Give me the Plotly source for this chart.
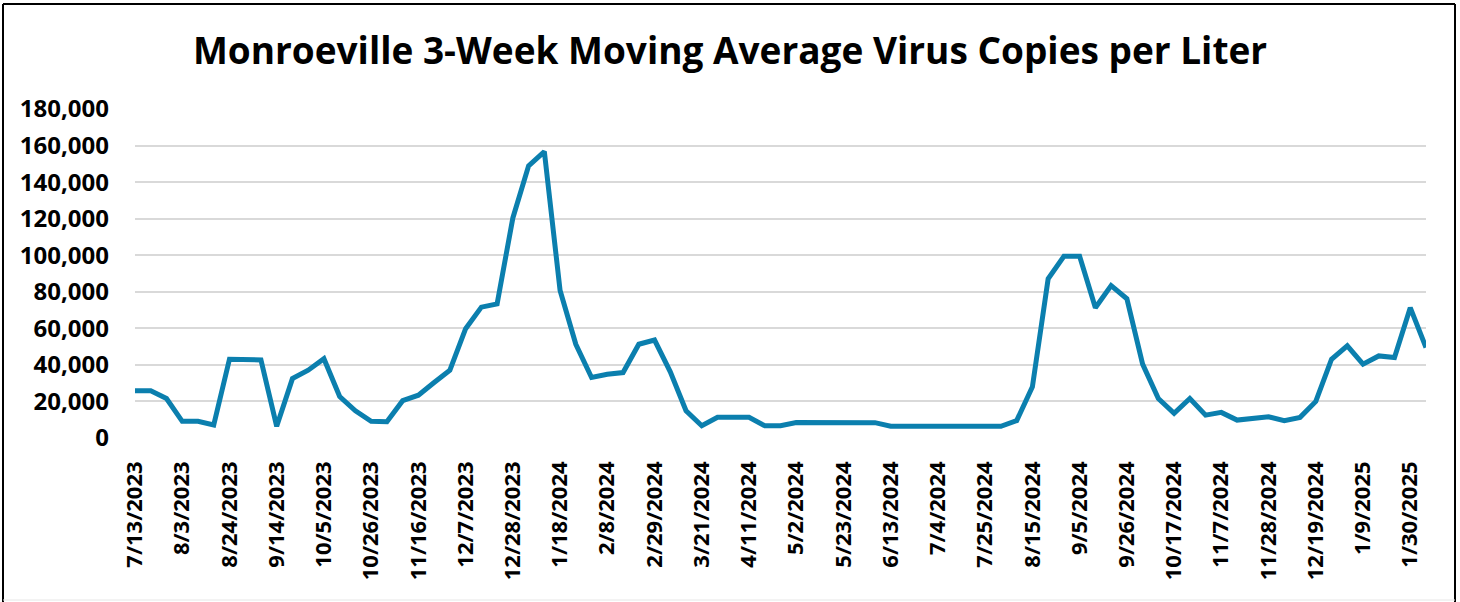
import pandas as pd
import plotly.graph_objects as go

dates = [d.strftime("%-m/%-d/%Y") for d in pd.date_range("2023-07-13", periods=83, freq="7D")]

values = [
    25800, 25800, 21600, 9100, 9100, 7100, 43100, 43100, 42700, 6400,
    32500, 37100, 43400, 22700, 14900, 9100, 8900, 20400, 23400, 30400,
    37100, 59800, 71600, 73400, 120400, 148900, 156700, 80700, 51300, 33100,
    34900, 35800, 51300, 53600, 36200, 14900, 6700, 11300, 11300, 11300,
    6700, 6700, 8500, 8500, 8500, 8200, 8400, 8400, 6400, 6400,
    6400, 6400, 6400, 6400, 6400, 6400, 9500, 28000, 87100, 99400,
    99400, 71300, 83400, 76200, 40400, 21600, 13500, 21600, 12500, 14000,
    9800, 10400, 11600, 9500, 11300, 20000, 43100, 50400, 40400, 44900,
    44000, 71300, 49500,
]

tick_labels = dates[::3]
y_ticks = [0, 20000, 40000, 60000, 80000, 100000, 120000, 140000, 160000, 180000]

title = "Monroeville 3-Week Moving Average Virus Copies per Liter"

fig = go.Figure()
fig.add_trace(go.Scatter(
    x=dates, y=values, mode="lines",
    line=dict(color="#0b7fae", width=5),
    hoverinfo="x+y",
))

W, H = 1460, 602
L, R, T, B = 135, 34, 109, 164
pw, ph = W - L - R, H - T - B


def px(x):
    return (x - L) / pw


def py(y):
    return 1 - (y - T) / ph


fig.update_layout(
    width=W, height=H,
    margin=dict(l=L, r=R, t=T, b=B),
    paper_bgcolor="white", plot_bgcolor="white",
    showlegend=False,
    font=dict(family="Open Sans", color="black"),
    title=dict(text="<b>" + title + "</b>", x=0.5, xref="container", xanchor="center",
               y=1 - 51 / H, yref="container", yanchor="middle",
               font=dict(size=37, family="Open Sans", color="black")),
    xaxis=dict(
        type="category", range=[0, len(dates) - 1],
        tickmode="array", tickvals=tick_labels, ticktext=tick_labels,
        tickangle=-90, tickfont=dict(size=22, family="Open Sans", color="black", weight="bold"),
        showgrid=False, showline=False, zeroline=False, ticks="", ticklabelstandoff=18,
    ),
    yaxis=dict(
        range=[0, 180000], tickmode="array", tickvals=y_ticks,
        ticktext=[f"{v:,}" for v in y_ticks],
        tickfont=dict(size=24, family="Open Sans", color="black", weight="bold"),
        showgrid=True, gridcolor="#d9d9d9", gridwidth=1.5,
        zeroline=False, showline=False, ticks="", ticklabelstandoff=25,
    ),
)

# chart frame: black on left, top and right; faint grey at the bottom
frame = [
    ((3, 4), (1455, 4), "black", 2),
    ((3, 4), (3, 602), "black", 2),
    ((1455, 4), (1455, 602), "black", 2),
    ((3, 600), (1455, 600), "#e6e6e6", 1),
]
for (x0, y0), (x1, y1), col, w in frame:
    fig.add_shape(type="line", xref="paper", yref="paper",
                  x0=px(x0), y0=py(y0), x1=px(x1), y1=py(y1),
                  line=dict(color=col, width=w), layer="below")

fig.write_html("out.html",
               config={"displayModeBar": False},
               post_script="document.body.style.margin='0';document.body.style.overflow='hidden';")
